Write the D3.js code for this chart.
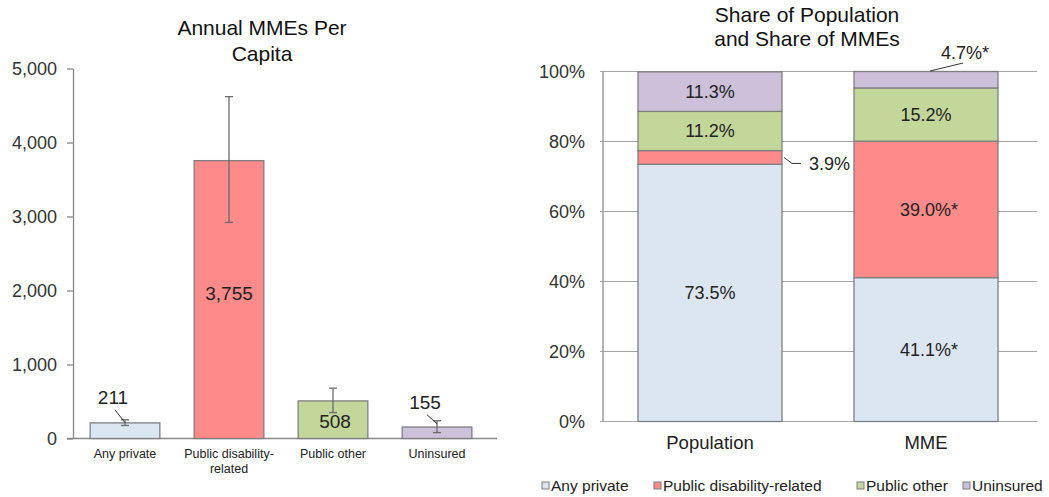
<!DOCTYPE html>
<html>
<head>
<meta charset="utf-8">
<script src="https://cdn.jsdelivr.net/npm/d3@7"></script>
<style>
  body { margin: 0; background: #fff; }
  svg { font-family: "Liberation Sans", Arial, sans-serif; }
</style>
</head>
<body>
<svg id="chart" width="1049" height="497"></svg>
<script>
// data
var groups = ["Any private", "Public disability-related", "Public other", "Uninsured"]
var groupColors = ["#dce6f2", "#ff8a8a", "#c4d79b", "#ccc0da"]
var mmePerCapita = [211, 3755, 508, 155]
var errLow = [176, 2920, 350, 80]
var errHigh = [253, 4620, 680, 240]
var leftTicks = [0, 1000, 2000, 3000, 4000, 5000]

var shareCats = ["Population", "MME"]
var populationShare = [73.5, 3.9, 11.2, 11.3]
var mmeShare = [41.1, 39.0, 15.2, 4.7]
var mmeLabels = ["41.1%*", "39.0%*", "15.2%", "4.7%*"]
var popLabels = ["73.5%", "3.9%", "11.2%", "11.3%"]
var rightTicks = [0, 20, 40, 60, 80, 100]

var svg = d3.select("#chart")
var textColor = "#333"
var barStroke = "#7f7f7f"

// ---------- left chart ----------
var left = svg.append("g")

var xL = d3.scaleBand()
           .domain(groups)
           .range([73, 489])
           .paddingInner(0.33)
           .paddingOuter(0.165)

var yL = d3.scaleLinear()
           .domain([0, 5000])
           .range([438.5, 68.5])

left.append("text")
    .attr("x", 262).attr("y", 35)
    .attr("text-anchor", "middle")
    .style("font-size", "21px").style("fill", "#111")
    .text("Annual MMEs Per")
left.append("text")
    .attr("x", 262).attr("y", 61)
    .attr("text-anchor", "middle")
    .style("font-size", "21px").style("fill", "#111")
    .text("Capita")

var yAxisL = left.append("g")
    .attr("transform", "translate(73,0)")
    .call(d3.axisLeft(yL).tickValues(leftTicks).tickFormat(d3.format(",")).tickSize(6).tickSizeOuter(0).tickPadding(10))
yAxisL.select(".domain").attr("stroke", "#888").attr("stroke-width", 1.3)
yAxisL.selectAll(".tick line").attr("stroke", "#888").attr("stroke-width", 1.3)
yAxisL.selectAll(".tick text")
      .style("font-size", "18px").style("fill", textColor)
      .style("font-family", "Liberation Sans, Arial, sans-serif")

// baseline
left.append("line")
    .attr("x1", 67).attr("x2", 497)
    .attr("y1", yL(0)).attr("y2", yL(0))
    .attr("stroke", "#888").attr("stroke-width", 1.3)

var idx = d3.range(groups.length)

left.append("g")
    .selectAll("rect")
    .data(idx)
    .enter()
    .append("rect")
    .attr("x", i => xL(groups[i]))
    .attr("y", i => yL(mmePerCapita[i]))
    .attr("width", xL.bandwidth())
    .attr("height", i => yL(0) - yL(mmePerCapita[i]))
    .attr("fill", i => groupColors[i])
    .attr("stroke", barStroke)
    .attr("stroke-width", 1.3)

// error bars
var err = left.append("g")
              .selectAll("g")
              .data(idx)
              .enter()
              .append("g")
              .attr("stroke", "#6b6b6b")
              .attr("stroke-width", 1.3)
err.append("line")
   .attr("x1", i => xL(groups[i]) + xL.bandwidth() / 2)
   .attr("x2", i => xL(groups[i]) + xL.bandwidth() / 2)
   .attr("y1", i => yL(errLow[i]))
   .attr("y2", i => yL(errHigh[i]))
err.append("line")
   .attr("x1", i => xL(groups[i]) + xL.bandwidth() / 2 - 4)
   .attr("x2", i => xL(groups[i]) + xL.bandwidth() / 2 + 4)
   .attr("y1", i => yL(errLow[i]))
   .attr("y2", i => yL(errLow[i]))
err.append("line")
   .attr("x1", i => xL(groups[i]) + xL.bandwidth() / 2 - 4)
   .attr("x2", i => xL(groups[i]) + xL.bandwidth() / 2 + 4)
   .attr("y1", i => yL(errHigh[i]))
   .attr("y2", i => yL(errHigh[i]))

// value labels
var labelOffsets = [
    {dx: -12, dy: -22, leader: true},
    {dx: 0, dy: 0, inside: true},
    {dx: 2, dy: 0, inside: true},
    {dx: -12, dy: -18, leader: true}
]
idx.forEach(function(i){
    var cx = xL(groups[i]) + xL.bandwidth() / 2
    var o = labelOffsets[i]
    var ty
    if (o.inside) {
        ty = i == 1 ? yL(mmePerCapita[i] * 0.5) - 6 : (yL(mmePerCapita[i]) + yL(0)) / 2 + 2
    } else {
        ty = yL(errHigh[i]) + o.dy
    }
    left.append("text")
        .attr("x", cx + o.dx)
        .attr("y", ty)
        .attr("dy", "0.35em")
        .attr("text-anchor", "middle")
        .style("font-size", "19px").style("fill", "#222")
        .text(d3.format(",")(mmePerCapita[i]))
    if (o.leader) {
        left.append("line")
            .attr("x1", cx + o.dx + 2).attr("y1", ty + 12)
            .attr("x2", cx).attr("y2", yL(errHigh[i]) + 3)
            .attr("stroke", "#333").attr("stroke-width", 1)
    }
})

// category labels
var catLabel = left.append("g")
    .selectAll("text")
    .data(idx)
    .enter()
    .append("text")
    .attr("x", i => xL(groups[i]) + xL.bandwidth() / 2)
    .attr("y", 458)
    .attr("text-anchor", "middle")
    .style("font-size", "12.5px").style("fill", "#222")
catLabel.each(function(i){
    var parts = groups[i] == "Public disability-related" ? ["Public disability-", "related"] : [groups[i]]
    var t = d3.select(this)
    parts.forEach(function(p, k){
        t.append("tspan")
         .attr("x", xL(groups[i]) + xL.bandwidth() / 2)
         .attr("dy", k == 0 ? 0 : 15)
         .text(p)
    })
})

// ---------- right chart ----------
var right = svg.append("g")

var xR = d3.scaleBand()
           .domain(shareCats)
           .range([602, 1034])
           .paddingInner(1 / 3)
           .paddingOuter(1 / 6)

var yR = d3.scaleLinear()
           .domain([0, 100])
           .range([421.5, 71.5])

right.append("text")
     .attr("x", 807).attr("y", 22)
     .attr("text-anchor", "middle")
     .style("font-size", "21px").style("fill", "#111")
     .text("Share of Population")
right.append("text")
     .attr("x", 807).attr("y", 46)
     .attr("text-anchor", "middle")
     .style("font-size", "21px").style("fill", "#111")
     .text("and Share of MMEs")

// gridlines
right.append("g")
     .selectAll("line")
     .data(rightTicks)
     .enter()
     .append("line")
     .attr("x1", 600).attr("x2", 1037)
     .attr("y1", d => yR(d)).attr("y2", d => yR(d))
     .attr("stroke", "#a6a6a6").attr("stroke-width", 1.2)

right.append("line")
     .attr("x1", 603).attr("x2", 603)
     .attr("y1", yR(100)).attr("y2", yR(0))
     .attr("stroke", "#8c8c8c").attr("stroke-width", 1.3)

var yAxisR = right.append("g")
    .attr("transform", "translate(603,0)")
    .call(d3.axisLeft(yR).tickValues(rightTicks).tickFormat(d => d + "%").tickSize(0).tickPadding(18))
yAxisR.select(".domain").remove()
yAxisR.selectAll(".tick text")
      .style("font-size", "18px").style("fill", textColor)
      .style("font-family", "Liberation Sans, Arial, sans-serif")

var stackRows = [populationShare, mmeShare]
var stackLabels = [popLabels, mmeLabels]

stackRows.forEach(function(vals, c){
    var x0 = xR(shareCats[c])
    var cum = 0
    vals.forEach(function(v, i){
        var lo = cum, hi = cum + v
        cum = hi
        right.append("rect")
             .attr("x", x0)
             .attr("y", yR(hi))
             .attr("width", xR.bandwidth())
             .attr("height", yR(lo) - yR(hi))
             .attr("fill", groupColors[i])
             .attr("stroke", barStroke)
             .attr("stroke-width", 1.3)
        var mid = yR((lo + hi) / 2)
        var cx = x0 + xR.bandwidth() / 2
        if (v < 5 && c == 0) {
            var ex = x0 + xR.bandwidth()
            right.append("polyline")
                 .attr("points", [[ex + 2, mid], [ex + 10, mid + 6], [ex + 19, mid + 6]].join(" "))
                 .attr("fill", "none").attr("stroke", "#333").attr("stroke-width", 1)
            right.append("text")
                 .attr("x", ex + 27).attr("y", mid + 6)
                 .attr("dy", "0.35em")
                 .style("font-size", "18px").style("fill", "#222")
                 .text(stackLabels[c][i])
        } else if (v < 5) {
            right.append("line")
                 .attr("x1", cx + 4).attr("y1", yR(hi) - 0.5)
                 .attr("x2", cx + 37).attr("y2", yR(hi) - 8.5)
                 .attr("stroke", "#333").attr("stroke-width", 1)
            right.append("text")
                 .attr("x", cx + 39).attr("y", yR(hi) - 19)
                 .attr("dy", "0.35em")
                 .attr("text-anchor", "middle")
                 .style("font-size", "18px").style("fill", "#222")
                 .text(stackLabels[c][i])
        } else {
            right.append("text")
                 .attr("x", cx + (stackLabels[c][i].indexOf("*") >= 0 ? 3 : 0))
                 .attr("y", mid)
                 .attr("dy", "0.35em")
                 .attr("text-anchor", "middle")
                 .style("font-size", "18px").style("fill", "#222")
                 .text(stackLabels[c][i])
        }
    })
})

right.append("g")
     .selectAll("text")
     .data(shareCats)
     .enter()
     .append("text")
     .attr("x", d => xR(d) + xR.bandwidth() / 2)
     .attr("y", 449)
     .attr("text-anchor", "middle")
     .style("font-size", "18.5px").style("fill", "#222")
     .text(d => d)

// legend
var legendX = [542, 654, 857, 963]
var legend = svg.append("g")
                .selectAll("g")
                .data(idx)
                .enter()
                .append("g")
                .attr("transform", i => "translate(" + legendX[i] + ",486)")
legend.append("rect")
      .attr("x", 0).attr("y", -4)
      .attr("width", 7).attr("height", 7)
      .attr("fill", i => groupColors[i])
      .attr("stroke", "#7f7f7f").attr("stroke-width", 1)
legend.append("text")
      .attr("x", 9).attr("y", 0)
      .attr("dy", "0.35em")
      .style("font-size", "15.5px").style("fill", "#222")
      .text(i => groups[i])
</script>
</body>
</html>
